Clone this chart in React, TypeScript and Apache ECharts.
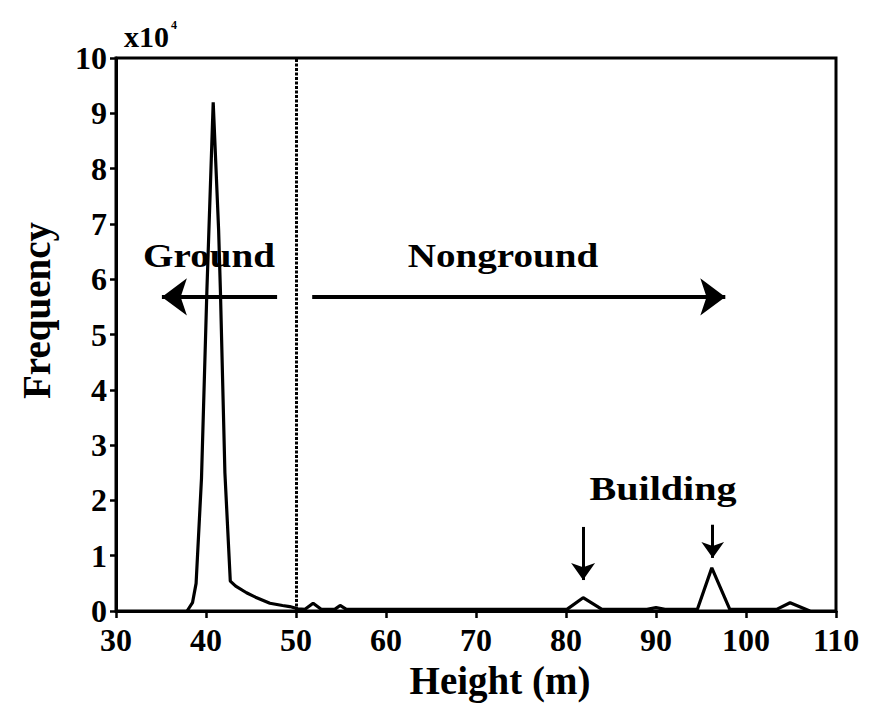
import React, { useEffect, useRef } from "react";
import * as echarts from "echarts";

// Height (m) and frequency (x10^4)
const heights = [37.9, 38.5, 38.9, 39.5, 40.1, 40.8, 41.4, 41.6, 42.1, 42.7, 43.3, 44.5, 45.5, 47.1, 48.5, 49.3, 50.2, 51.0, 51.9, 52.8, 54.3, 54.9, 55.6, 65.0, 75.0, 80.1, 81.9, 84.0, 89.0, 90.0, 91.0, 94.6, 96.2, 98.2, 103.4, 104.9, 107.1];
const frequency = [0, 0.15, 0.5, 2.4, 5.8, 9.2, 6.9, 5.8, 2.5, 0.54, 0.45, 0.33, 0.25, 0.14, 0.1, 0.08, 0.04, 0.03, 0.14, 0.03, 0.03, 0.1, 0.03, 0.03, 0.03, 0.03, 0.24, 0.03, 0.03, 0.06, 0.03, 0.03, 0.78, 0.03, 0.03, 0.15, 0.0];

const xTicks = { min: 30, max: 110, interval: 10 };
const yTicks = { min: 0, max: 10, interval: 1 };
const separatorHeight = 50;

const FONT = "'Liberation Serif', 'Times New Roman', serif";

export default function App() {
  const ref = useRef<HTMLDivElement>(null);
  useEffect(() => {
    if (!ref.current) return;
    const chart = echarts.init(ref.current, null, { renderer: "svg" });
    const data = heights.map((h, i) => [h, frequency[i]]);
    const arrowStyle = { color: "#000", width: 4, type: "solid" as const };
    const smallArrow = { color: "#000", width: 3, type: "solid" as const };
    chart.setOption({
      animation: false,
      backgroundColor: "#fff",
      grid: {
        left: 116,
        right: 37,
        top: 58,
        bottom: 95,
        show: true,
        borderColor: "#000",
        borderWidth: 3,
      },
      xAxis: {
        type: "value",
        min: xTicks.min,
        max: xTicks.max,
        interval: xTicks.interval,
        name: "Height (m)",
        nameLocation: "middle",
        nameGap: 50,
        nameTextStyle: { fontFamily: FONT, fontWeight: "bold", fontSize: 39, color: "#000", padding: [0, 0, 0, 48] },
        axisLine: { lineStyle: { color: "#000", width: 3 } },
        axisTick: { show: true, inside: false, length: 7, lineStyle: { color: "#000", width: 2.5 } },
        axisLabel: { fontFamily: FONT, fontWeight: "bold", fontSize: 32, lineHeight: 24, color: "#000", margin: 17 },
        splitLine: { show: false },
      },
      yAxis: {
        type: "value",
        min: yTicks.min,
        max: yTicks.max,
        interval: yTicks.interval,
        name: "Frequency",
        nameLocation: "middle",
        nameGap: 60,
        nameRotate: 90,
        nameTextStyle: { fontFamily: FONT, fontWeight: "bold", fontSize: 39, color: "#000", padding: [0, 0, 0, 48] },
        axisLine: { lineStyle: { color: "#000", width: 3 } },
        axisTick: { show: true, inside: false, length: 6, lineStyle: { color: "#000", width: 2.5 } },
        axisLabel: { fontFamily: FONT, fontWeight: "bold", fontSize: 32, lineHeight: 24, color: "#000", margin: 9 },
        splitLine: { show: false },
      },
      series: [
        {
          type: "line",
          data,
          symbol: "none",
          lineStyle: { color: "#000", width: 3.2 },
          markLine: {
            silent: true,
            animation: false,
            label: { show: false },
            data: [
              [
                { xAxis: separatorHeight, yAxis: yTicks.min, symbol: "none" },
                { xAxis: separatorHeight, yAxis: yTicks.max, symbol: "none" },
              ],
              [
                { coord: [47.9, 5.68], symbol: "none", lineStyle: arrowStyle },
                { coord: [35.1, 5.68], symbol: "arrow", symbolSize: [28, 25], lineStyle: arrowStyle },
              ],
              [
                { coord: [51.8, 5.68], symbol: "none", lineStyle: arrowStyle },
                { coord: [97.7, 5.68], symbol: "arrow", symbolSize: [28, 25], lineStyle: arrowStyle },
              ],
              [
                { coord: [81.9, 1.52], symbol: "none", lineStyle: smallArrow },
                { coord: [81.9, 0.56], symbol: "arrow", symbolSize: [18, 17], lineStyle: smallArrow },
              ],
              [
                { coord: [96.3, 1.56], symbol: "none", lineStyle: smallArrow },
                { coord: [96.3, 0.96], symbol: "arrow", symbolSize: [17, 16], lineStyle: smallArrow },
              ],
            ],
            lineStyle: { color: "#000", width: 3, type: [3, 1.5] },
          },
        },
      ],
      graphic: [
        {
          type: "text",
          x: 209,
          y: 255,
          scaleX: 1.15,
          style: { text: "Ground", fontFamily: FONT, fontWeight: "bold", fontSize: 34, fill: "#000", align: "center", verticalAlign: "middle" },
        },
        {
          type: "text",
          x: 503,
          y: 255,
          scaleX: 1.15,
          style: { text: "Nonground", fontFamily: FONT, fontWeight: "bold", fontSize: 34, fill: "#000", align: "center", verticalAlign: "middle" },
        },
        {
          type: "text",
          x: 663,
          y: 489,
          scaleX: 1.18,
          style: { text: "Building", fontFamily: FONT, fontWeight: "bold", fontSize: 34, fill: "#000", align: "center", verticalAlign: "middle" },
        },
        {
          type: "text",
          x: 124,
          y: 36,
          style: { text: "x10", fontFamily: FONT, fontWeight: "bold", fontSize: 30, fill: "#000", align: "left", verticalAlign: "middle" },
        },
        {
          type: "text",
          x: 171,
          y: 25,
          style: { text: "4", fontFamily: FONT, fontWeight: "bold", fontSize: 12, fill: "#000", align: "left", verticalAlign: "middle" },
        },
      ],
    });
    return () => chart.dispose();
  }, []);
  return <div ref={ref} style={{ width: 873, height: 706, position: "absolute", left: 0, top: 0 }} />;
}
